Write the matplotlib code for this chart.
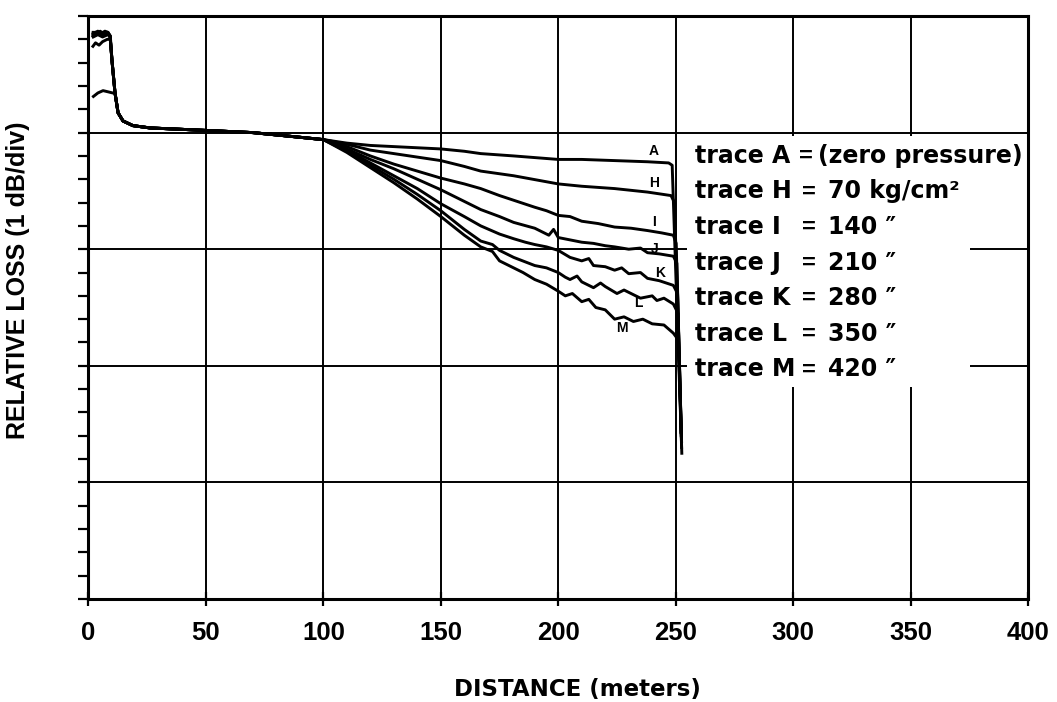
import matplotlib
matplotlib.use("Agg")
import matplotlib.pyplot as plt
from matplotlib.patches import Rectangle
from matplotlib.ticker import MultipleLocator, NullFormatter

# ---------------- data (distance in m, relative level in dB; 1 dB per division) ----------------
x_tick_values = [0, 50, 100, 150, 200, 250, 300, 350, 400]

# common part of all traces after the launch spike
common_x = [12.6, 14.7, 18.9, 26.2, 48.7, 70, 90]
common_y = [4.17, 4.10, 4.06, 4.04, 4.02, 4.00, 3.96]

# launch spike (start) of each trace
A_x0 = [1.9, 3.0, 4.0, 5.5, 7.0, 8.3, 9.2, 10.0, 11.3]
A_y0 = [4.83, 4.86, 4.87, 4.85, 4.87, 4.86, 4.83, 4.62, 4.34]
H_x0 = [1.9, 3.5, 5.0, 6.5, 8.3, 9.2, 10.0, 11.3]
H_y0 = [4.85, 4.84, 4.87, 4.84, 4.85, 4.83, 4.62, 4.34]
I_x0 = [2.0, 4.0, 6.0, 8.3, 9.2, 10.0, 11.3]
I_y0 = [4.82, 4.84, 4.82, 4.84, 4.82, 4.62, 4.34]
J_x0 = [2.0, 5.0, 8.3, 9.2, 10.0, 11.3]
J_y0 = [4.86, 4.86, 4.86, 4.83, 4.62, 4.34]
K_x0 = [1.9, 3.0, 4.5, 6.0, 8.0, 9.4, 10.0, 11.3]
K_y0 = [4.74, 4.77, 4.75, 4.78, 4.80, 4.80, 4.62, 4.34]
L_x0 = [2.0, 4.0, 6.0, 8.3, 9.2, 10.0, 11.3]
L_y0 = [4.84, 4.85, 4.83, 4.85, 4.83, 4.62, 4.34]
M_x0 = [2.1, 4.0, 6.2, 8.3, 10.3, 11.3]
M_y0 = [4.31, 4.34, 4.36, 4.35, 4.34, 4.34]

# pressure-dependent part of each trace (from 100 m to the fibre end)
A_x = [100, 110, 120, 130, 140, 150, 160, 167, 181, 200, 210, 224, 238, 247, 248.5, 252.3]
A_y = [3.94, 3.91, 3.89, 3.88, 3.87, 3.86, 3.84, 3.82, 3.80, 3.77, 3.77, 3.76, 3.75, 3.74, 3.72, 1.43]
H_x = [100, 110, 120, 130, 140, 150, 160, 167, 181, 200, 210, 224, 238, 248, 249.5, 252.3]
H_y = [3.94, 3.90, 3.85, 3.82, 3.79, 3.76, 3.71, 3.67, 3.63, 3.56, 3.54, 3.52, 3.49, 3.46, 3.40, 1.43]
I_x = [100, 110, 120, 130, 140, 150, 160, 167, 175, 181, 190, 195, 200, 205, 210, 217, 224, 231,
       238, 244, 249, 250.2, 252.4]
I_y = [3.94, 3.88, 3.80, 3.73, 3.67, 3.61, 3.56, 3.52, 3.46, 3.42, 3.36, 3.33, 3.29, 3.28, 3.24, 3.22,
       3.19, 3.18, 3.16, 3.14, 3.12, 3.05, 1.40]
J_x = [100, 110, 120, 130, 140, 150, 160, 167, 175, 181, 190, 196, 198, 200, 205, 210, 215, 220, 224,
       230, 235, 238, 243, 249, 250.5, 252.4]
J_y = [3.94, 3.86, 3.77, 3.69, 3.60, 3.51, 3.41, 3.34, 3.28, 3.23, 3.18, 3.12, 3.17, 3.10, 3.08, 3.06,
       3.05, 3.03, 3.02, 3.00, 3.01, 2.97, 2.96, 2.94, 2.88, 1.40]
K_x = [100, 110, 120, 130, 140, 150, 160, 167, 175, 181, 186, 190, 195, 200, 205, 210, 213, 215, 220,
       224, 227, 230, 235, 238, 243, 249, 250.8, 252.5]
K_y = [3.94, 3.85, 3.74, 3.63, 3.52, 3.39, 3.28, 3.20, 3.13, 3.09, 3.06, 3.04, 3.02, 2.99, 2.93, 2.90,
       2.92, 2.86, 2.85, 2.82, 2.84, 2.79, 2.80, 2.75, 2.73, 2.69, 2.62, 1.30]
L_x = [100, 110, 120, 130, 140, 150, 160, 167, 172, 175, 181, 190, 195, 200, 203, 205, 208, 210, 215,
       218, 220, 225, 228, 230, 235, 240, 242, 245, 249, 251.0, 252.5]
L_y = [3.94, 3.84, 3.72, 3.60, 3.47, 3.33, 3.17, 3.07, 3.04, 2.99, 2.93, 2.86, 2.84, 2.80, 2.76, 2.74,
       2.77, 2.72, 2.67, 2.71, 2.68, 2.62, 2.65, 2.63, 2.58, 2.60, 2.56, 2.58, 2.53, 2.45, 1.35]
M_x = [100, 110, 120, 130, 140, 150, 160, 167, 172, 175, 181, 185, 190, 195, 200, 203, 206, 210, 213,
       216, 220, 224, 228, 232, 236, 240, 245, 249, 251.2, 252.6]
M_y = [3.94, 3.83, 3.70, 3.57, 3.43, 3.28, 3.12, 3.02, 2.98, 2.90, 2.84, 2.80, 2.74, 2.70, 2.64, 2.60,
       2.62, 2.55, 2.57, 2.50, 2.48, 2.40, 2.42, 2.38, 2.40, 2.36, 2.35, 2.28, 2.22, 1.25]

trace_names = ["A", "H", "I", "J", "K", "L", "M"]
trace_label_x = [240.6, 240.6, 240.6, 241.0, 243.3, 234.1, 227.0]
trace_label_y = [3.84, 3.57, 3.23, 3.00, 2.80, 2.54, 2.32]

legend_names = ["trace A", "trace H", "trace I", "trace J", "trace K", "trace L", "trace M"]
legend_values = ["(zero pressure)", "70 kg/cm\u00b2", "140 \u2033", "210 \u2033", "280 \u2033",
                 "350 \u2033", "420 \u2033"]

# ---------------- figure ----------------
fig = plt.figure(figsize=(10.57, 7.02), dpi=100)
ax = fig.add_axes([0.0837, 0.1467, 0.8889, 0.8305])
ax.set_xlim(0, 400)
ax.set_ylim(0, 5)

starts = [(A_x0, A_y0), (H_x0, H_y0), (I_x0, I_y0), (J_x0, J_y0), (K_x0, K_y0), (L_x0, L_y0), (M_x0, M_y0)]
tails = [(A_x, A_y), (H_x, H_y), (I_x, I_y), (J_x, J_y), (K_x, K_y), (L_x, L_y), (M_x, M_y)]
for (sx, sy), (tx, ty) in zip(starts, tails):
    xs = list(sx) + list(common_x) + list(tx)
    ys = list(sy) + list(common_y) + list(ty)
    ax.plot(xs, ys, color="black", lw=2.1, solid_joinstyle="round", zorder=3)

# grid
ax.set_xticks(x_tick_values)
ax.yaxis.set_major_locator(MultipleLocator(1))
ax.yaxis.set_minor_locator(MultipleLocator(0.2))
ax.yaxis.set_major_formatter(NullFormatter())
ax.grid(True, which="major", color="black", lw=1.4, zorder=1)

for sp in ax.spines.values():
    sp.set_linewidth(2.2)
    sp.set_zorder(5)

ax.tick_params(axis="x", direction="inout", length=10, width=1.6, pad=11,
               labelsize=18.5)
ax.tick_params(axis="y", which="both", direction="out", length=7, width=1.6, left=True, right=False)
for lab in ax.get_xticklabels():
    lab.set_fontweight("bold")
    lab.set_family(["Liberation Sans", "DejaVu Sans"])

# white area behind the legend text (breaks grid lines)
ax.add_patch(Rectangle((255, 1.82), 120.5, 2.15, facecolor="white", edgecolor="none", zorder=2))

# curve letters
for name, lx, ly in zip(trace_names, trace_label_x, trace_label_y):
    ax.text(lx, ly, name, fontsize=10, fontweight="bold", ha="center", va="center",
            family=["Liberation Sans", "DejaVu Sans"], zorder=4)

# legend-like text
for i, (nm, val) in enumerate(zip(legend_names, legend_values)):
    yb = 3.74 - 0.305 * i
    ax.text(258.1, yb, nm, fontsize=17, fontweight="bold", ha="left", va="baseline", zorder=6)
    ex = 302.5 if i == 0 else 303.6
    ax.text(ex, yb, "=", fontsize=17, fontweight="bold", ha="left", va="baseline",
            family=["Liberation Sans", "DejaVu Sans"], zorder=6)
    vx = 310.6 if i == 0 else 314.7
    ax.text(vx, yb, val, fontsize=17, fontweight="bold", ha="left", va="baseline", zorder=6)

ax.set_xlabel("DISTANCE (meters)", fontsize=16.5, fontweight="bold", family="DejaVu Sans")
ax.xaxis.set_label_coords(0.52, -0.135)
ax.set_ylabel("RELATIVE LOSS (1 dB/div)", fontsize=18, fontweight="bold",
              family=["Liberation Sans", "DejaVu Sans"])
ax.yaxis.set_label_coords(-0.0623, 0.547)

fig.savefig("out.png", dpi=100, facecolor="white")
